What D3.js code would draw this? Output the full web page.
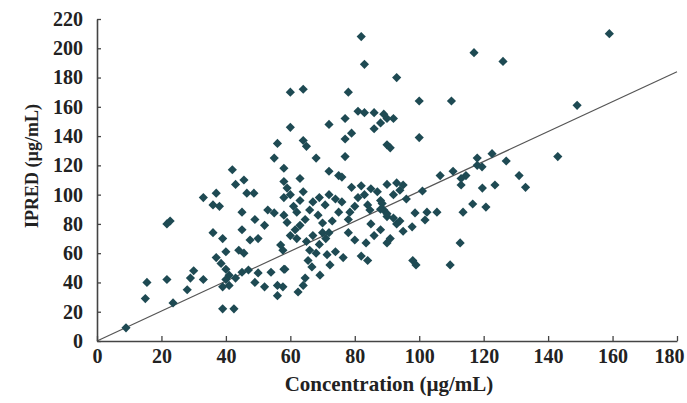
<!DOCTYPE html>
<html><head><meta charset="utf-8">
<script src="https://cdn.jsdelivr.net/npm/d3@7/dist/d3.min.js"></script>
<style>body{margin:0;background:#fff}svg{display:block}</style>
</head><body><svg id="c" width="687" height="403"></svg>
<script>
const xTicks = [0,20,40,60,80,100,120,140,160,180];
const yTicks = [0,20,40,60,80,100,120,140,160,180,200,220];
const xTitle = "Concentration (µg/mL)";
const yTitle = "IPRED (µg/mL)";
const lineX = [0,180];
const lineY = [0,184];
const concentration = [9,15,15.5,21.7,23.6,21.7,22.7,28,29,30,33,33,37,36,38,36,39,37,40,38.5,40,41,40,41,39,39,42.5,43,45,47,50,49,52,54,56,57.7,62.4,58,43,45.6,46.5,48.7,42,45,49,53,55,52,50,47.5,45,44,45.6,57.7,57,56,59,56,55,58,60,60,64,64,65,58,59,58,63,68,72,75,72,77,79,77,77,78,82,83,93,117,126,159,149,143,110,100,100,81,83,86,89,90,88,92,86,90,91,106.5,110.5,114.5,118,118,119.5,122.6,127,131,133,119.6,123.5,116.6,120.7,79,82,85,87,83,76,90,93,95,94,101,113,113,113.6,98.7,102.4,101.8,105.5,97.8,112.7,98,99,109.6,90,89,88,88,90,92,93,95,94,90,78,80,83.5,82,84,78.5,78,84,84.7,88.5,60,63,66,68.6,61.5,63,64.6,70,60,58,67,69,70.8,70,72,65.5,66.7,64.6,64,71.4,74,76.4,72.3,69.2,58.3,62,65,67,69,71,73,75,66,68,62,61,64,74,76,72,86,88,91,85,80,81,92,96];
const ipred = [9,29,40,42,26,80,82,35,43,48,42,98,101,93,92,74,70,57,61,53,49,45,42,38,37,22,22,43,47,48.5,46.5,40,37,47,31,37,33.5,49,107,110,101,101,117,88,83,89.5,87.5,79,70,69,76,62,60,62,65.6,38,81,135,125,118,146,170,172,137,133,109,104.5,98,111,125,116,113,148,152,142,138,126,170,208,189,180,197,191,210,161,126,164,164,139,157,156,156,155,152,149,152,145,134,132,113,116,113,125,120,119,128,123,113,105,104.5,106.6,93.6,91.5,105,106,104,102,100,112,107,108,106.6,103,102.5,106.6,111,88,87.5,88,82.7,88,78,67,55,52,52,85,89.5,96,90,87,84,80,75,82,67,74,69,67,58,55,88,83,93,89.5,94,100,96,89.5,86,76,79,83,74,72,86,95,98,93,80.6,74,55,50.6,43,38,59,61,57,52,45,49,70,68,72,66,70,82,88,62,60,88,92,102,97,95,100,72,76,70,80,92,98,100,97];

const svg = d3.select("#c");
const x = d3.scaleLinear().domain([0,180]).range([97,677]);
const y = d3.scaleLinear().domain([0,220]).range([341,19]);
const font = "'Liberation Serif','Times New Roman',serif";
const axisCol = "#444";

// line
svg.append("line")
  .attr("x1", x(lineX[0])).attr("y1", y(lineY[0]))
  .attr("x2", x(lineX[1])).attr("y2", y(lineY[1]))
  .attr("stroke", "#555").attr("stroke-width", 1.2);

// points
const pts = concentration.map((c,i)=>[c, ipred[i]]);
const sym = d3.symbol().type(d3.symbolSquare).size(42);
svg.append("g").selectAll("path").data(pts).join("path")
  .attr("d", sym)
  .attr("transform", d => `translate(${x(d[0])},${y(d[1])}) rotate(45)`)
  .attr("fill", "#1e4a53");

// axes
const xa = svg.append("g").attr("transform", "translate(0,341)")
  .call(d3.axisBottom(x).tickValues(xTicks).tickSize(-5).tickSizeOuter(0).tickPadding(8));
const ya = svg.append("g").attr("transform", "translate(97,0)")
  .call(d3.axisLeft(y).tickValues(yTicks).tickSize(-4).tickSizeOuter(0).tickPadding(14));
[xa, ya].forEach(a => {
  a.select(".domain").attr("stroke", axisCol).attr("stroke-width", 1.6);
  a.selectAll(".tick line").attr("stroke", axisCol).attr("stroke-width", 1.3);
  a.selectAll(".tick text").attr("fill", "#222").attr("font-family", font)
    .attr("font-size", 20).attr("font-weight", "bold");
});
// keep the last x label inside the page
xa.selectAll(".tick text").filter(d => d === 180).attr("dx", -8);

svg.append("text").attr("x", 389).attr("y", 391).attr("text-anchor", "middle")
  .attr("font-family", font).attr("font-size", 21).attr("font-weight", "bold").attr("fill", "#222")
  .text(xTitle);
svg.append("text").attr("transform", "translate(38,166) rotate(-90)").attr("text-anchor", "middle")
  .attr("font-family", font).attr("font-size", 18).attr("font-weight", "bold").attr("fill", "#222")
  .text(yTitle);
</script></body></html>
